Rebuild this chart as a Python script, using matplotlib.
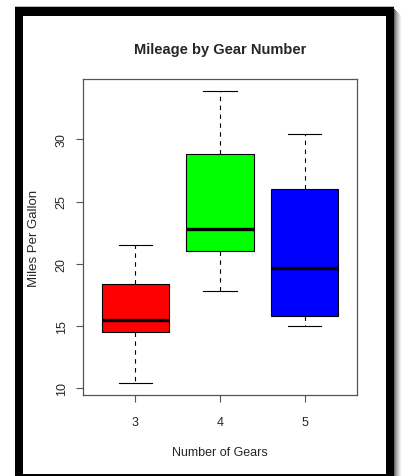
import matplotlib
matplotlib.use("Agg")
import matplotlib.patches as patches
from matplotlib import pyplot as plt

plt.rcParams["font.family"] = ["Liberation Sans", "DejaVu Sans"]

# five-number summaries
gears = ["3", "4", "5"]
whisker_low = [10.4, 17.8, 15.0]
q1 = [14.5, 21.0, 15.8]
medians = [15.5, 22.8, 19.7]
q3 = [18.4, 28.85, 26.0]
whisker_high = [21.5, 33.9, 30.4]
box_colors = ["#ff0000", "#00ff00", "#0000ff"]

W, H = 401, 477
TEXT = "#262626"


def px_rect(fig, x0, y0, x1, y1, color):
    """Rectangle given in image pixels (y down)."""
    r = patches.Rectangle(
        (x0 / W, 1 - y1 / H), (x1 - x0) / W, (y1 - y0) / H,
        transform=fig.transFigure, facecolor=color, edgecolor="none",
        zorder=10,
    )
    fig.patches.append(r)


fig = plt.figure(figsize=(W / 100, H / 100), dpi=100)
ax = fig.add_axes([83 / W, 1 - 396 / H, (357 - 83) / W, (396 - 80) / H])

stats = []
for i in range(len(gears)):
    stats.append({
        "whislo": whisker_low[i], "q1": q1[i], "med": medians[i],
        "q3": q3[i], "whishi": whisker_high[i], "fliers": [], "label": gears[i],
    })

bp = ax.bxp(
    stats, positions=[1, 2, 3], widths=0.8, capwidths=0.4, patch_artist=True,
    boxprops={"edgecolor": "black", "linewidth": 0.8},
    medianprops={"color": "black", "linewidth": 2.4, "solid_capstyle": "butt"},
    whiskerprops={"color": "black", "linewidth": 0.8, "linestyle": (0, (4, 4))},
    capprops={"color": "black", "linewidth": 0.8},
)
for box, c in zip(bp["boxes"], box_colors):
    box.set_facecolor(c)

ax.set_xlim(0.38, 3.62)
ax.set_ylim(9.46, 34.84)
ax.set_yticks([10, 15, 20, 25, 30])
ax.set_xticks([1, 2, 3])
ax.set_xticklabels(gears)

for s in ax.spines.values():
    s.set_color("#555555")
    s.set_linewidth(0.9)
ax.tick_params(axis="both", direction="out", length=5, width=0.8,
               color="#555555", labelcolor=TEXT, labelsize=9)
ax.tick_params(axis="x", pad=10)
ax.tick_params(axis="y", pad=6)
for lab in ax.get_yticklabels():
    lab.set_rotation(90)
    lab.set_va("center")

ax.set_xlabel("Number of Gears", fontsize=9, color=TEXT, va="center")
ax.xaxis.set_label_coords(0.5, -0.18)
ax.set_ylabel("Miles Per Gallon", fontsize=9.5, color=TEXT, va="center")
ax.yaxis.set_label_coords(-0.18, 0.5)

fig.text(220 / W, 1 - 50 / H, "Mileage by Gear Number", ha="center",
         va="center", fontsize=10.5, fontweight="bold", color=TEXT)

# screenshot frame round the plot
px_rect(fig, 15, 7, 394, 8, "#bbbbbb")
px_rect(fig, 15, 8, 394, 17, "black")
px_rect(fig, 15, 8, 23, 477, "black")
px_rect(fig, 386, 8, 394, 477, "black")
px_rect(fig, 15, 475, 394, 477, "black")
for k, g in enumerate(["#666666", "#888888", "#a0a0a0", "#b8b8b8",
                       "#cccccc", "#dddddd", "#eeeeee"]):
    px_rect(fig, 394 + k, 10 + k, 395 + k, 477, g)

fig.savefig("out.png", dpi=100)
